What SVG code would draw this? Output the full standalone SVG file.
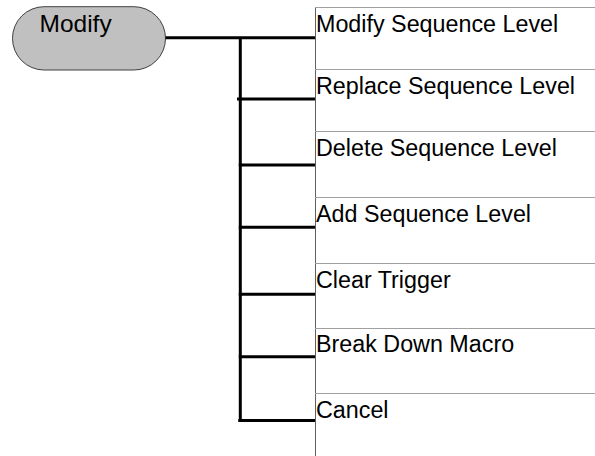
<svg xmlns="http://www.w3.org/2000/svg" width="595" height="456" viewBox="0 0 595 456">
<style>
.menu{font-family:"Liberation Sans",Arial,sans-serif;font-size:23.3px;fill:#000}
.nodetxt{font-family:"Liberation Sans",Arial,sans-serif;font-size:24.5px;fill:#000}
.thick{stroke:#000;stroke-width:3;fill:none}
.sep{stroke:#a0a0a0;stroke-width:1;fill:none}
.col{stroke:#606060;stroke-width:1;fill:none}
</style>
<rect width="595" height="456" fill="#fff"/>
<g id="node-modify">
<rect x="12.5" y="6.7" width="153" height="63.3" rx="31.6" ry="31.6" fill="#c0c0c0" stroke="#404040" stroke-width="1"/>
<text class="nodetxt" x="39.5" y="31.7">Modify</text>
</g>
<g id="connectors">
<line class="thick" x1="165.5" y1="37.7" x2="315" y2="37.7"/>
<line class="thick" x1="240.3" y1="37.7" x2="240.3" y2="422"/>
<line class="thick" x1="237" y1="99" x2="315" y2="99"/>
<line class="thick" x1="238.8" y1="165" x2="315" y2="165"/>
<line class="thick" x1="238.8" y1="227.3" x2="315" y2="227.3"/>
<line class="thick" x1="238.8" y1="294.3" x2="315" y2="294.3"/>
<line class="thick" x1="238.8" y1="356.7" x2="315" y2="356.7"/>
<line class="thick" x1="238.3" y1="420.5" x2="315" y2="420.5"/>
</g>
<g id="menu">
<line class="col" x1="315.5" y1="7" x2="315.5" y2="456"/>
<line class="sep" x1="315" y1="7.5" x2="595" y2="7.5"/>
<line class="sep" x1="315" y1="69.5" x2="595" y2="69.5"/>
<line class="sep" x1="315" y1="131.5" x2="595" y2="131.5"/>
<line class="sep" x1="315" y1="197.5" x2="595" y2="197.5"/>
<line class="sep" x1="315" y1="263.5" x2="595" y2="263.5"/>
<line class="sep" x1="315" y1="328.5" x2="595" y2="328.5"/>
<line class="sep" x1="315" y1="393.5" x2="595" y2="393.5"/>
</g>
<g id="item-modify-sequence-level"><text class="menu" x="316" y="32">Modify Sequence Level</text></g>
<g id="item-replace-sequence-level"><text class="menu" x="316" y="94">Replace Sequence Level</text></g>
<g id="item-delete-sequence-level"><text class="menu" x="316" y="156">Delete Sequence Level</text></g>
<g id="item-add-sequence-level"><text class="menu" x="316" y="221.7">Add Sequence Level</text></g>
<g id="item-clear-trigger"><text class="menu" x="316" y="288">Clear Trigger</text></g>
<g id="item-break-down-macro"><text class="menu" x="316" y="352">Break Down Macro</text></g>
<g id="item-cancel"><text class="menu" x="316" y="417.5">Cancel</text></g>
</svg>
